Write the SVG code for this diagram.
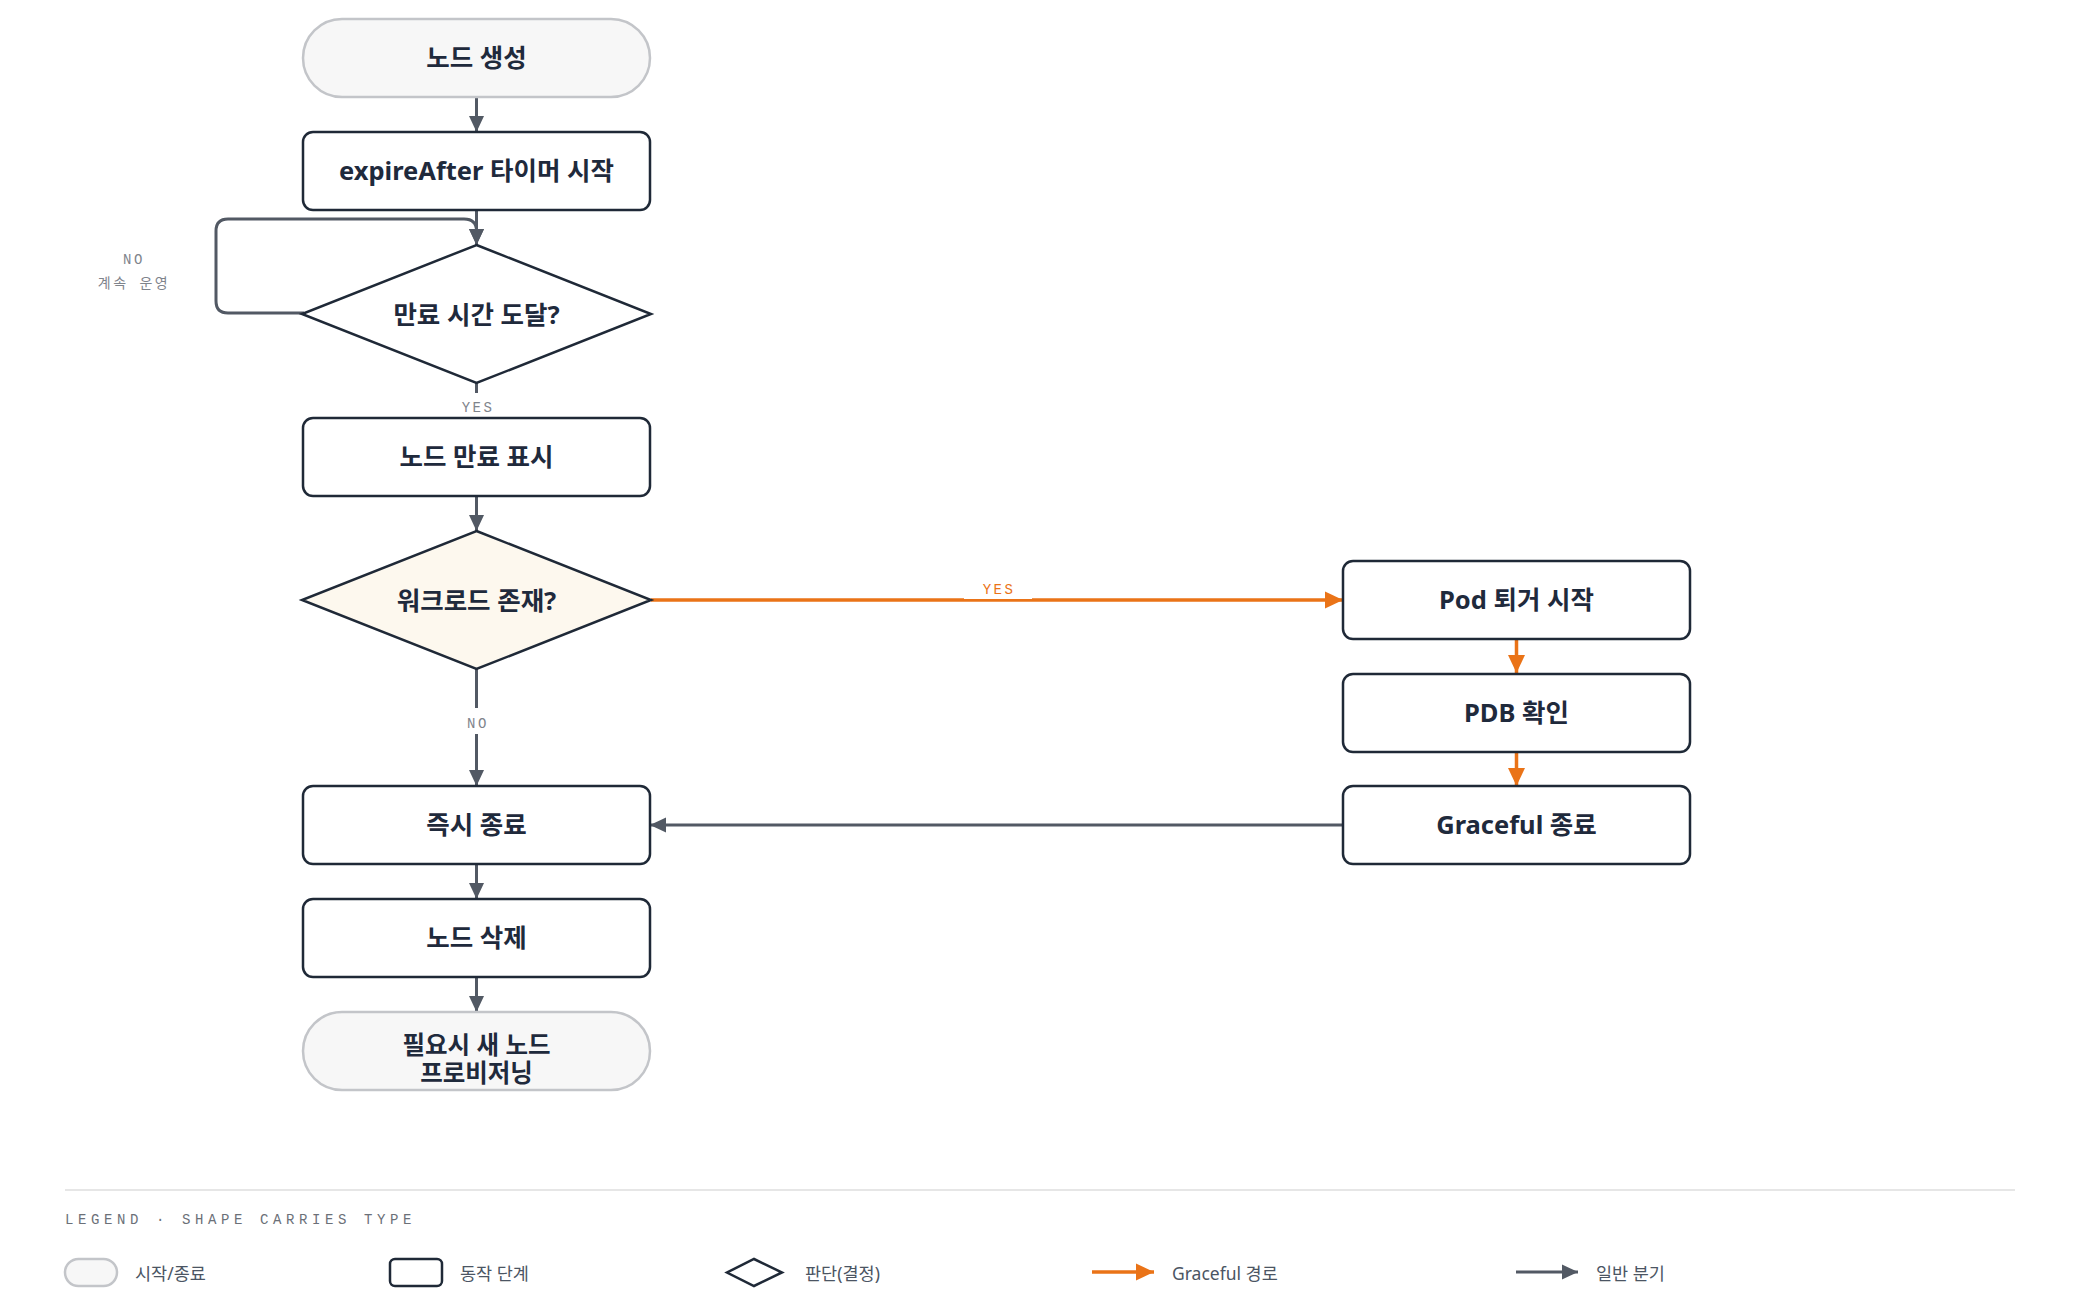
<svg xmlns="http://www.w3.org/2000/svg" width="2080" height="1302" viewBox="0 0 2080 1302">
<defs>
<style>
.bg{fill:#ffffff}
.node{fill:#ffffff;stroke:#1f2937;stroke-width:2.5}
.term{fill:#f7f7f7;stroke:#c3c5c9;stroke-width:2.5}
.dec{fill:#ffffff;stroke:#1f2937;stroke-width:2.5}
.dec2{fill:#fdf8ee;stroke:#1f2937;stroke-width:2.5}
.lbl{font-family:"Noto Sans","Noto Sans CJK KR",sans-serif;font-weight:700;font-size:25.5px;fill:#1f2a3c;text-anchor:middle;dominant-baseline:central}
.lbl2{font-size:24.5px}
.edge{fill:none;stroke:#525964;stroke-width:3}
.edgeo{fill:none;stroke:#ea7317;stroke-width:3.5}
.mono{font-family:"Liberation Mono","Noto Sans CJK KR",monospace;font-size:14px;fill:#7f848c;text-anchor:middle;letter-spacing:2.5px;dominant-baseline:central}
.monoo{fill:#ea7317}
.leg{font-family:"Noto Sans","Noto Sans CJK KR",sans-serif;font-size:17.5px;fill:#4b5563;dominant-baseline:central}
.legtitle{font-family:"Liberation Mono",monospace;font-size:14px;fill:#6b7078;letter-spacing:4.6px;dominant-baseline:central}
</style>
<marker id="ag" viewBox="0 0 16 16" refX="16" refY="8" markerWidth="16" markerHeight="16" markerUnits="userSpaceOnUse" orient="auto">
<path d="M0,0.5 L16,8 L0,15.5 Z" fill="#525964"/>
</marker>
<marker id="ao" viewBox="0 0 18 18" refX="18" refY="9" markerWidth="18" markerHeight="18" markerUnits="userSpaceOnUse" orient="auto">
<path d="M0,0.5 L18,9 L0,17.5 Z" fill="#ea7317"/>
</marker>
</defs>
<rect class="bg" x="0" y="0" width="2080" height="1302"/>

<g id="connectors">
<line class="edge" x1="476.5" y1="97" x2="476.5" y2="132" marker-end="url(#ag)"/>
<line class="edge" x1="476.5" y1="210" x2="476.5" y2="245" marker-end="url(#ag)"/>
<path class="edge" d="M304,313 H228 Q216,313 216,301 V231 Q216,219 228,219 H464 Q476.5,219 476.5,231 V245" marker-end="url(#ag)"/>
<line class="edge" x1="476.5" y1="383" x2="476.5" y2="418" marker-end="url(#ag)"/>
<line class="edge" x1="476.5" y1="496" x2="476.5" y2="531" marker-end="url(#ag)"/>
<line class="edge" x1="476.5" y1="669" x2="476.5" y2="786" marker-end="url(#ag)"/>
<line class="edgeo" x1="651" y1="600" x2="1343" y2="600" marker-end="url(#ao)"/>
<line class="edgeo" x1="1516.5" y1="639" x2="1516.5" y2="673" marker-end="url(#ao)"/>
<line class="edgeo" x1="1516.5" y1="752" x2="1516.5" y2="786" marker-end="url(#ao)"/>
<line class="edge" x1="1343" y1="825" x2="650" y2="825" marker-end="url(#ag)"/>
<line class="edge" x1="476.5" y1="864" x2="476.5" y2="899" marker-end="url(#ag)"/>
<line class="edge" x1="476.5" y1="977" x2="476.5" y2="1012" marker-end="url(#ag)"/>
<g id="edge-labels">
<text class="mono" x="134" y="260">NO</text>
<text class="mono" x="134" y="284">계속 운영</text>
<rect x="450" y="393" width="54" height="24" fill="#ffffff"/>
<text class="mono" x="478" y="408">YES</text>
<rect x="964" y="577" width="68" height="22" fill="#ffffff"/>
<text class="mono monoo" x="999" y="590">YES</text>
<rect x="450" y="708" width="54" height="26" fill="#ffffff"/>
<text class="mono" x="478" y="724">NO</text>
</g>
</g>

<g id="n-start">
<rect class="term" x="303" y="19" width="347" height="78" rx="39"/>
<text class="lbl" x="476.5" y="57">노드 생성</text>
</g>
<g id="n-timer">
<rect class="node" x="303" y="132" width="347" height="78" rx="10"/>
<text class="lbl" x="476.5" y="170">expireAfter 타이머 시작</text>
</g>
<g id="n-expired">
<polygon class="dec" points="476.5,245 651,314 476.5,383 302,314"/>
<text class="lbl" x="476.5" y="314">만료 시간 도달?</text>
</g>
<g id="n-mark">
<rect class="node" x="303" y="418" width="347" height="78" rx="10"/>
<text class="lbl" x="476.5" y="456">노드 만료 표시</text>
</g>
<g id="n-workload">
<polygon class="dec2" points="476.5,531 651,600 476.5,669 302,600"/>
<text class="lbl" x="476.5" y="600">워크로드 존재?</text>
</g>
<g id="n-evict">
<rect class="node" x="1343" y="561" width="347" height="78" rx="10"/>
<text class="lbl" x="1516.5" y="599">Pod 퇴거 시작</text>
</g>
<g id="n-pdb">
<rect class="node" x="1343" y="674" width="347" height="78" rx="10"/>
<text class="lbl" x="1516.5" y="712">PDB 확인</text>
</g>
<g id="n-graceful">
<rect class="node" x="1343" y="786" width="347" height="78" rx="10"/>
<text class="lbl" x="1516.5" y="824">Graceful 종료</text>
</g>
<g id="n-immediate">
<rect class="node" x="303" y="786" width="347" height="78" rx="10"/>
<text class="lbl" x="476.5" y="824">즉시 종료</text>
</g>
<g id="n-delete">
<rect class="node" x="303" y="899" width="347" height="78" rx="10"/>
<text class="lbl" x="476.5" y="937">노드 삭제</text>
</g>
<g id="n-provision">
<rect class="term" x="303" y="1012" width="347" height="78" rx="39"/>
<text class="lbl lbl2" x="476.5" y="1044">필요시 새 노드</text>
<text class="lbl lbl2" x="476.5" y="1072">프로비저닝</text>
</g>

<g id="legend">
<line x1="65" y1="1190" x2="2015" y2="1190" stroke="#e6e6e6" stroke-width="2"/>
<text class="legtitle" x="65" y="1220">LEGEND · SHAPE CARRIES TYPE</text>
<rect class="term" x="65" y="1259" width="52" height="27" rx="13.5"/>
<text class="leg" x="135" y="1273">시작/종료</text>
<rect class="node" x="390" y="1259" width="52" height="27" rx="5"/>
<text class="leg" x="460" y="1273">동작 단계</text>
<polygon fill="#ffffff" stroke="#1f2937" stroke-width="2.5" points="754,1259 782,1272.5 754,1286 727,1272.5"/>
<text class="leg" x="805" y="1273">판단(결정)</text>
<line class="edgeo" x1="1092" y1="1272" x2="1154" y2="1272" marker-end="url(#ao)"/>
<text class="leg" x="1172" y="1273">Graceful 경로</text>
<line class="edge" x1="1516" y1="1272" x2="1578" y2="1272" marker-end="url(#ag)"/>
<text class="leg" x="1596" y="1273">일반 분기</text>
</g>
</svg>
